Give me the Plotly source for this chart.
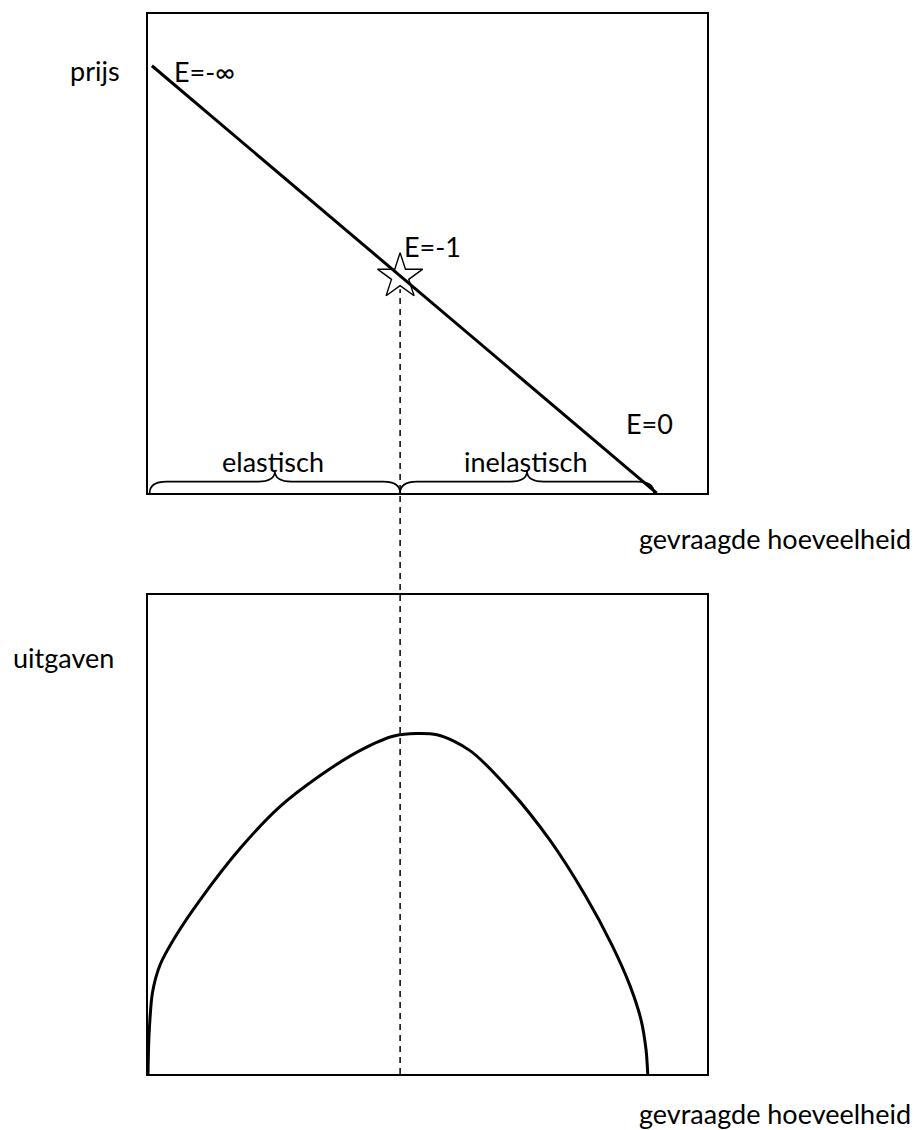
import plotly.graph_objects as go

# ---- data ----
demand_q = [0.7, 91.0]
demand_p = [89.2, 0.0]
unit_q = [45.1]
unit_p = [45.2]
spend_q = [0.0, 0.2, 0.8, 2.2, 4.8, 9.3, 16.5, 23.6, 30.8, 37.9, 44.2, 51.7,
           57.6, 64.8, 71.9, 78.2, 83.0, 86.2, 88.2, 89.1, 89.4]
spend_u = [0.0, 8.5, 17.0, 22.9, 28.5, 36.3, 47.1, 55.8, 62.3, 67.5, 70.6, 70.8,
           67.5, 59.2, 48.8, 37.3, 26.9, 18.5, 11.3, 5.0, 0.0]
brace_left = [0.3, 45.1]
brace_right = [45.1, 90.5]
brace_labels = ["elastisch", "inelastisch"]
elasticity_labels = ["E=-∞", "E=-1", "E=0"]

OFF = 8  # page body margin
W, H = 918, 1130
L, R, T, B = 148 - OFF, 707 - OFF, 12 - OFF, 1074 - OFF
top_dom = [(B - (492 - OFF)) / (B - T), 1.0]
bot_dom = [0.0, (B - (594 - OFF)) / (B - T)]

FONT = "Lato"
FS = 27

def px(xp):
    return (xp - OFF - L) / (R - L)

def py(yp):
    return (B - (yp - OFF)) / (B - T)

fig = go.Figure()
fig.add_trace(go.Scatter(x=demand_q, y=demand_p, mode="lines",
                         line=dict(color="black", width=3), xaxis="x", yaxis="y", showlegend=False))
fig.add_trace(go.Scatter(x=unit_q, y=unit_p, mode="markers",
                         marker=dict(symbol="star-open", size=34, color="black", line=dict(width=1.4)),
                         xaxis="x", yaxis="y", showlegend=False))
fig.add_trace(go.Scatter(x=spend_q, y=spend_u, mode="lines", line_shape="spline",
                         line=dict(color="black", width=3, smoothing=0.8),
                         xaxis="x2", yaxis="y2", showlegend=False))

# dashed vertical through unit elasticity
y_star_paper = top_dom[0] + unit_p[0] / 100 * (top_dom[1] - top_dom[0])
fig.add_shape(type="line", xref="x", yref="paper", x0=unit_q[0], x1=unit_q[0],
              y0=0, y1=y_star_paper - 0.012, line=dict(color="black", width=1.5, dash="6px,5px"))

# braces
h1, h2 = 2.4, 4.6
def brace(x0, x1):
    xm = (x0 + x1) / 2
    w = 3.0
    return (f"M {x0},0 Q {x0},{h1} {x0+w},{h1} L {xm-w},{h1} Q {xm},{h1} {xm},{h2} "
            f"Q {xm},{h1} {xm+w},{h1} L {x1-w},{h1} Q {x1},{h1} {x1},0")
for b in (brace_left, brace_right):
    fig.add_shape(type="path", xref="x", yref="y", path=brace(*b),
                  line=dict(color="black", width=1.6))

ann = []
def text(t, xp, yp, xa="center"):
    ann.append(dict(text=t, x=px(xp), y=py(yp), xref="paper", yref="paper",
                    xanchor=xa, yanchor="middle", showarrow=False,
                    font=dict(family=FONT, size=FS, color="black")))

text("prijs", 95, 69)
text("uitgaven", 63, 657)
text("gevraagde hoeveelheid", 775, 537)
text("gevraagde hoeveelheid", 775, 1114)
text(elasticity_labels[0], 172, 70, "left")
text(elasticity_labels[1], 402, 245, "left")
text(elasticity_labels[2], 624, 422, "left")
text(brace_labels[0], 273, 460)
text(brace_labels[1], 526, 460)

axis_common = dict(range=[0, 100], showgrid=False, zeroline=False, showticklabels=False,
                   ticks="", showline=True, linecolor="black", linewidth=2, mirror=True,
                   fixedrange=True)
fig.update_layout(
    width=W, height=H, autosize=False,
    margin=dict(l=L, r=W - R, t=T, b=H - B, pad=0),
    paper_bgcolor="white", plot_bgcolor="white",
    xaxis=dict(domain=[0, 1], anchor="y", **axis_common),
    yaxis=dict(domain=top_dom, anchor="x", **axis_common),
    xaxis2=dict(domain=[0, 1], anchor="y2", **axis_common),
    yaxis2=dict(domain=bot_dom, anchor="x2", **axis_common),
    annotations=ann,
    showlegend=False,
)
fig.write_html("out.html", config={"displayModeBar": False})
